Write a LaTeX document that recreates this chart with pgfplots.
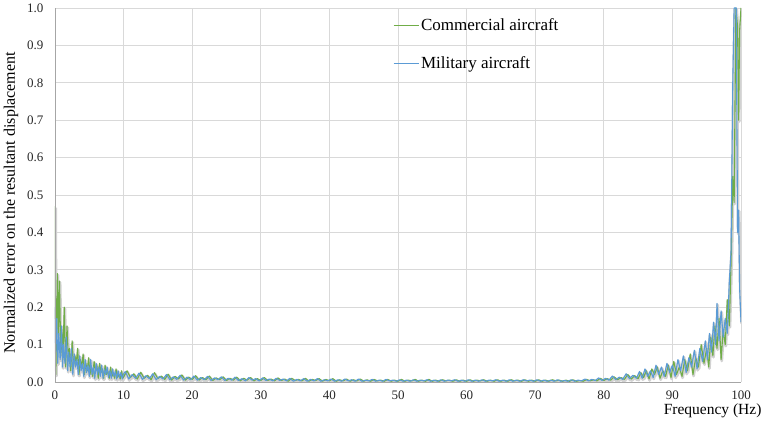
\documentclass[border=0pt]{standalone}
\usepackage{pgfplots}
\usepackage{pgfplotstable}
\pgfplotsset{compat=1.18}
\usepackage{fontspec}
\setmainfont{Liberation Serif}
\definecolor{cgreen}{HTML}{70AD47}
\definecolor{cblue}{HTML}{5B9BD5}
\definecolor{gridc}{HTML}{D9D9D9}
\definecolor{shadowc}{HTML}{D2D2D2}
\pgfplotstableread{
x y
0 0.47
0.12 0.02
0.35 0.29
0.5 0.12
0.65 0.27
0.85 0.07
1.0 0.14
1.15 0.06
1.35 0.20
1.55 0.04
1.75 0.15
1.95 0.06
2.1 0.09
2.3 0.03
2.5 0.11
2.7 0.04
2.9 0.07
3.1 0.05
3.3 0.09
3.5 0.02
3.7 0.06
3.9 0.04
4.1 0.075
4.3 0.02
4.5 0.05
4.7 0.03
4.9 0.065
5.1 0.02
5.3 0.04
5.5 0.015
5.7 0.055
5.9 0.03
6.1 0.045
6.3 0.01
6.5 0.05
6.7 0.025
6.9 0.035
7.1 0.01
7.3 0.045
7.5 0.02
7.7 0.03
7.9 0.01
8.1 0.04
8.3 0.015
8.5 0.025
8.7 0.01
8.9 0.035
9.1 0.012
9.3 0.02
9.5 0.008
9.7 0.03
9.9 0.01
10.5 0.030
11 0.012
11.5 0.022
12 0.008
12.5 0.026
13 0.010
13.5 0.018
14 0.006
14.5 0.025
15 0.009
15.5 0.016
16 0.007
16.5 0.021
17 0.005
17.5 0.015
18 0.008
18.5 0.019
19 0.005
19.5 0.013
20 0.007
20.5 0.017
21 0.005
21.5 0.012
22 0.006
22.5 0.016
23 0.004
23.5 0.011
24 0.006
24.5 0.014
25 0.004
25.5 0.010
26 0.005
26.5 0.013
27 0.003
27.5 0.010
28 0.005
28.5 0.012
29 0.003
29.5 0.009
30 0.004
30.5 0.012
31 0.004
31.5 0.008
32 0.003
32.5 0.011
33 0.004
33.5 0.008
34 0.002
34.5 0.010
35 0.004
35.5 0.007
36 0.003
36.5 0.010
37 0.002
37.5 0.007
38 0.004
38.5 0.009
39 0.002
39.5 0.007
40 0.003
40.5 0.009
41 0.002
41.5 0.006
42 0.003
42.5 0.008
43 0.002
43.5 0.006
44 0.003
44.5 0.008
45 0.002
45.5 0.006
46 0.002
46.5 0.007
47 0.003
47.5 0.005
48 0.002
48.5 0.007
49 0.002
49.5 0.005
50 0.002
50.5 0.007
51 0.002
51.5 0.005
52 0.003
52.5 0.007
53 0.002
53.5 0.005
54 0.002
54.5 0.007
55 0.002
55.5 0.005
56 0.002
56.5 0.006
57 0.003
57.5 0.005
58 0.002
58.5 0.006
59 0.002
59.5 0.005
60 0.002
60.5 0.006
61 0.002
61.5 0.005
62 0.003
62.5 0.006
63 0.002
63.5 0.005
64 0.002
64.5 0.006
65 0.002
65.5 0.005
66 0.002
66.5 0.006
67 0.003
67.5 0.005
68 0.002
68.5 0.006
69 0.002
69.5 0.005
70 0.002
70.5 0.006
71 0.002
71.5 0.005
72 0.002
72.5 0.006
73 0.003
73.5 0.005
74 0.002
74.5 0.005
75 0.002
75.5 0.006
76 0.002
76.5 0.004
77 0.002
77.5 0.007
78 0.003
78.5 0.006
79 0.003
79.5 0.010
80 0.004
80.5 0.009
81 0.005
81.5 0.014
82 0.006
82.5 0.012
83 0.007
83.5 0.020
84 0.008
84.5 0.017
85 0.009
85.4 0.025
85.8 0.012
86.2 0.03
86.6 0.008
87 0.035
87.4 0.02
87.8 0.04
88.2 0.01
88.6 0.03
89 0.015
89.4 0.045
89.8 0.012
90.2 0.055
90.6 0.02
91 0.04
91.4 0.015
91.8 0.06
92.2 0.03
92.6 0.075
93 0.02
93.4 0.065
93.8 0.04
94.2 0.10
94.6 0.05
95 0.09
95.3 0.04
95.6 0.12
95.9 0.07
96.2 0.15
96.5 0.09
96.8 0.17
97.1 0.06
97.4 0.14
97.7 0.10
98.0 0.22
98.3 0.15
98.55 0.32
98.8 0.55
99.0 0.48
99.25 1.0
99.5 0.95
99.65 0.70
99.8 0.94
100 1.0
}\green
\pgfplotstableread{
x y
0 0.20
0.1 0.08
0.25 0.17
0.4 0.05
0.55 0.13
0.75 0.06
0.95 0.15
1.1 0.04
1.25 0.10
1.45 0.05
1.65 0.12
1.85 0.03
2.0 0.08
2.2 0.04
2.4 0.09
2.6 0.02
2.8 0.075
3.0 0.04
3.2 0.06
3.4 0.02
3.6 0.07
3.8 0.03
4.0 0.05
4.2 0.015
4.4 0.06
4.6 0.025
4.8 0.045
5.0 0.015
5.2 0.06
5.4 0.02
5.6 0.04
5.8 0.01
6.0 0.05
6.2 0.02
6.4 0.04
6.6 0.015
6.8 0.045
7.0 0.01
7.2 0.035
7.4 0.02
7.6 0.04
7.8 0.012
8.0 0.03
8.2 0.01
8.4 0.035
8.6 0.015
8.8 0.028
9.0 0.008
9.2 0.03
9.4 0.012
9.6 0.025
9.8 0.008
10.0 0.022
10.25 0.028
10.75 0.008
11.25 0.020
11.75 0.010
12.25 0.024
12.75 0.007
13.25 0.017
13.75 0.009
14.25 0.022
14.75 0.006
15.25 0.015
15.75 0.008
16.25 0.020
16.75 0.006
17.25 0.014
17.75 0.007
18.25 0.018
18.75 0.005
19.25 0.013
19.75 0.006
20.25 0.016
20.75 0.005
21.25 0.012
21.75 0.006
22.25 0.015
22.75 0.004
23.25 0.011
23.75 0.006
24.25 0.014
24.75 0.004
25.25 0.010
25.75 0.005
26.25 0.013
26.75 0.004
27.25 0.009
27.75 0.003
28.25 0.012
28.75 0.005
29.25 0.009
29.75 0.003
30.25 0.011
30.75 0.004
31.25 0.008
31.75 0.003
32.25 0.010
32.75 0.004
33.25 0.008
33.75 0.003
34.25 0.010
34.75 0.002
35.25 0.007
35.75 0.003
36.25 0.009
36.75 0.002
37.25 0.007
37.75 0.003
38.25 0.009
38.75 0.002
39.25 0.006
39.75 0.003
40.25 0.008
40.75 0.002
41.25 0.006
41.75 0.002
42.25 0.008
42.75 0.003
43.25 0.006
43.75 0.002
44.25 0.008
44.75 0.002
45.25 0.005
45.75 0.003
46.25 0.007
46.75 0.002
47.25 0.005
47.75 0.002
48.25 0.007
48.75 0.003
49.25 0.005
49.75 0.002
50.25 0.006
50.75 0.002
51.25 0.005
51.75 0.002
52.25 0.006
52.75 0.002
53.25 0.005
53.75 0.003
54.25 0.006
54.75 0.002
55.25 0.005
55.75 0.002
56.25 0.006
56.75 0.002
57.25 0.005
57.75 0.003
58.25 0.006
58.75 0.002
59.25 0.005
59.75 0.002
60.25 0.006
60.75 0.002
61.25 0.005
61.75 0.002
62.25 0.006
62.75 0.002
63.25 0.005
63.75 0.003
64.25 0.006
64.75 0.002
65.25 0.005
65.75 0.002
66.25 0.006
66.75 0.002
67.25 0.005
67.75 0.002
68.25 0.006
68.75 0.003
69.25 0.005
69.75 0.002
70.25 0.006
70.75 0.002
71.25 0.005
71.75 0.002
72.25 0.005
72.75 0.002
73.25 0.006
73.75 0.002
74.25 0.004
74.75 0.002
75.25 0.006
75.75 0.002
76.25 0.005
76.75 0.003
77.25 0.008
77.75 0.003
78.25 0.007
78.75 0.004
79.25 0.011
79.75 0.004
80.25 0.010
80.75 0.005
81.25 0.016
81.75 0.006
82.25 0.013
82.75 0.007
83.25 0.022
83.75 0.009
84.25 0.018
84.75 0.010
85.2 0.028
85.6 0.01
86.0 0.035
86.4 0.015
86.8 0.03
87.2 0.012
87.6 0.045
88.0 0.02
88.4 0.04
88.8 0.015
89.2 0.05
89.6 0.025
90.0 0.045
90.4 0.015
90.8 0.06
91.2 0.03
91.6 0.07
92.0 0.025
92.4 0.065
92.8 0.04
93.2 0.085
93.6 0.035
94.0 0.09
94.4 0.055
94.8 0.11
95.1 0.06
95.4 0.13
95.7 0.08
96.0 0.16
96.3 0.10
96.5 0.21
96.8 0.11
97.1 0.19
97.4 0.12
97.7 0.17
98.0 0.13
98.3 0.27
98.55 0.35
98.8 0.80
99.0 1.0
99.3 1.0
99.5 0.40
99.65 0.46
99.8 0.25
100 0.16
}\blue
\begin{document}
\begin{tikzpicture}
\begin{axis}[
  scale only axis,
  width=686pt, height=374pt,
  xmin=0, xmax=100, ymin=0, ymax=1,
  xtick={0,10,...,100},
  ytick={0,0.1,...,1.0},
  yticklabel style={/pgf/number format/fixed,/pgf/number format/fixed zerofill,/pgf/number format/precision=1},
  /pgf/number format/assume math mode=true,
  tick label style={font=\fontsize{13}{15}\selectfont, text=black!85},
  grid=major,
  major grid style={gridc, line width=0.8pt},
  axis line style={draw=none},
  major tick length=0pt,
  xticklabel style={yshift=-5pt},
  yticklabel style={xshift=-8pt},
  clip=true,
  legend style={at={(rel axis cs:0.488,0.982)}, anchor=north west, draw=none, fill=none,
    font=\fontsize{17}{19}\selectfont, row sep=20pt, cells={anchor=west}},
  legend image code/.code={\draw[#1, line width=1.1pt] (0pt,0pt) -- (25pt,0pt);},
  every axis plot/.append style={line join=round},
]
\addplot[shadowc, line width=2.8pt, xshift=0.6pt, yshift=-1.4pt, forget plot] table {\green};
\addplot[shadowc, line width=2.8pt, xshift=0.6pt, yshift=-1.4pt, forget plot] table {\blue};
\addplot[color=cgreen, line width=1.1pt] table {\green};
\addlegendentry{Commercial aircraft}
\addplot[color=cblue, line width=1.1pt] table {\blue};
\addlegendentry{Military aircraft}
\draw[black!35, line width=0.8pt] (rel axis cs:0,0) -- (rel axis cs:1,0);
\draw[black!35, line width=0.8pt] (rel axis cs:0,0) -- (rel axis cs:0,1);
\end{axis}
\node[font=\fontsize{15.5}{17}\selectfont, anchor=east] at ([yshift=-29pt]current axis.south east) [xshift=24pt] {Frequency (Hz)};
\node[font=\fontsize{16}{18}\selectfont, rotate=90, anchor=center] at ([xshift=-44pt, yshift=-8pt]current axis.west) {Normalized error on the resultant displacement};
\pgfresetboundingbox
\path[use as bounding box] ([xshift=-55pt,yshift=-44pt]current axis.south west) rectangle ([xshift=24pt,yshift=8pt]current axis.north east);
\end{tikzpicture}
\end{document}
